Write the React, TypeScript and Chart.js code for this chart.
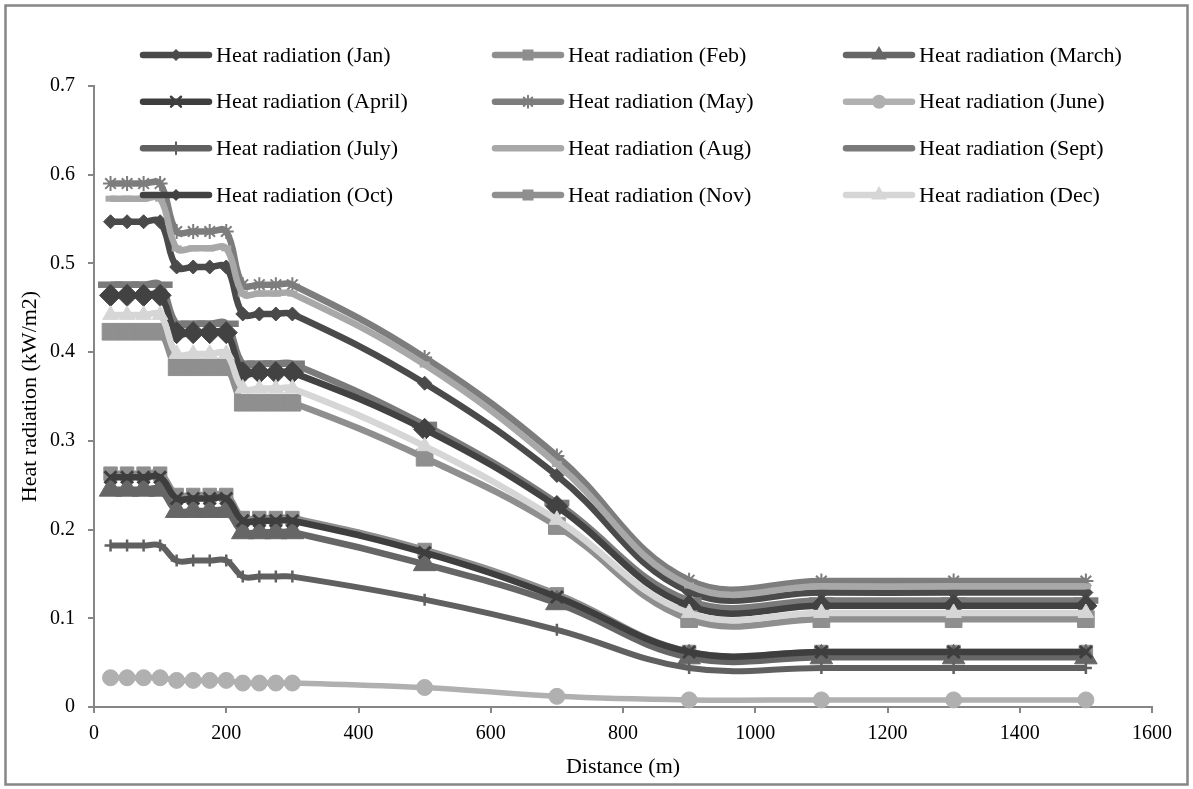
import React, { useEffect, useRef } from 'react';
import { Chart, registerables } from 'chart.js';

Chart.register(...registerables);

// ---------- data ----------
const distances = [25, 50, 75, 100, 125, 150, 175, 200, 225, 250, 275, 300, 500, 700, 900, 1100, 1300, 1500];

const seriesNames = [
  'Heat radiation (Jan)', 'Heat radiation (Feb)', 'Heat radiation (March)',
  'Heat radiation (April)', 'Heat radiation (May)', 'Heat radiation (June)',
  'Heat radiation (July)', 'Heat radiation (Aug)', 'Heat radiation (Sept)',
  'Heat radiation (Oct)', 'Heat radiation (Nov)', 'Heat radiation (Dec)',
];

const jan = [0.547, 0.547, 0.547, 0.547, 0.496, 0.496, 0.496, 0.496, 0.443, 0.443, 0.443, 0.443, 0.365, 0.261, 0.130, 0.129, 0.129, 0.129];
const feb = [0.263, 0.263, 0.263, 0.263, 0.239, 0.239, 0.239, 0.239, 0.213, 0.213, 0.213, 0.213, 0.177, 0.127, 0.062, 0.062, 0.062, 0.062];
const march = [0.245, 0.245, 0.245, 0.245, 0.221, 0.221, 0.221, 0.221, 0.197, 0.197, 0.197, 0.197, 0.161, 0.117, 0.056, 0.056, 0.056, 0.056];
const april = [0.259, 0.259, 0.259, 0.259, 0.235, 0.235, 0.235, 0.235, 0.210, 0.210, 0.210, 0.210, 0.174, 0.124, 0.062, 0.062, 0.062, 0.062];
const may = [0.590, 0.590, 0.590, 0.590, 0.536, 0.536, 0.536, 0.536, 0.476, 0.476, 0.476, 0.476, 0.394, 0.283, 0.143, 0.142, 0.142, 0.142];
const june = [0.033, 0.033, 0.033, 0.033, 0.030, 0.030, 0.030, 0.030, 0.027, 0.027, 0.027, 0.027, 0.022, 0.012, 0.008, 0.008, 0.008, 0.008];
const july = [0.182, 0.182, 0.182, 0.182, 0.165, 0.165, 0.165, 0.165, 0.147, 0.147, 0.147, 0.147, 0.121, 0.087, 0.044, 0.044, 0.044, 0.044];
const aug = [0.573, 0.573, 0.573, 0.573, 0.517, 0.517, 0.517, 0.517, 0.466, 0.466, 0.466, 0.466, 0.386, 0.274, 0.137, 0.136, 0.136, 0.136];
const sept = [0.476, 0.476, 0.476, 0.476, 0.432, 0.432, 0.432, 0.432, 0.387, 0.387, 0.387, 0.387, 0.318, 0.230, 0.120, 0.120, 0.120, 0.120];
const oct = [0.464, 0.464, 0.464, 0.464, 0.422, 0.422, 0.422, 0.422, 0.377, 0.377, 0.377, 0.377, 0.313, 0.226, 0.114, 0.114, 0.114, 0.114];
const nov = [0.423, 0.423, 0.423, 0.423, 0.383, 0.383, 0.383, 0.383, 0.343, 0.343, 0.343, 0.343, 0.281, 0.204, 0.099, 0.099, 0.099, 0.099];
const dec = [0.442, 0.442, 0.442, 0.442, 0.398, 0.398, 0.398, 0.398, 0.359, 0.359, 0.359, 0.359, 0.294, 0.211, 0.106, 0.106, 0.106, 0.106];

const seriesValues = [jan, feb, march, april, may, june, july, aug, sept, oct, nov, dec];

const xTickValues = [0, 200, 400, 600, 800, 1000, 1200, 1400, 1600];
const yTickValues = [0, 0.1, 0.2, 0.3, 0.4, 0.5, 0.6, 0.7];
const xTickLabels = ['0', '200', '400', '600', '800', '1000', '1200', '1400', '1600'];
const yTickLabels = ['0', '0.1', '0.2', '0.3', '0.4', '0.5', '0.6', '0.7'];

const xTitle = 'Distance (m)';
const yTitle = 'Heat radiation (kW/m2)';

// ---------- styles ----------
const colors = ['#4a4a4a', '#8e8e8e', '#666666', '#3e3e3e', '#7d7d7d', '#b0b0b0', '#606060', '#a8a8a8', '#7a7a7a', '#424242', '#8f8f8f', '#d6d6d6'];
const pointStyles = ['rectRot', 'rect', 'triangle', 'crossRot', 'star', 'circle', 'cross', 'line', 'line', 'rectRot', 'rect', 'triangle'];
const pointRadii = [7, 9.5, 13, 8.5, 7.5, 8, 6, 5, 12.5, 11, 11.8, 9];
const pointBorderWidths = [1, 1, 1, 3, 2, 1, 2.5, 6, 6.5, 1, 1, 1];
const lineWidths = [6.5, 6.5, 6.5, 6.5, 6.5, 5.5, 6, 6.5, 6.5, 6.5, 6.5, 6.5];
const legendRadii = [6, 7.8, 9, 7, 6, 7, 6, 0, 0, 6, 7.8, 9];
const legendMarkerWidths = [1, 1, 1, 2.5, 2, 1, 2, 1, 1, 1, 1, 1];

const FONT = '"Liberation Serif", "DejaVu Serif", serif';
const AXIS = '#868686';

function drawMarker(ctx: CanvasRenderingContext2D, style: string, x: number, y: number, r: number, color: string, lw: number) {
  if (r <= 0) return;
  ctx.save();
  ctx.fillStyle = color;
  ctx.strokeStyle = color;
  ctx.lineWidth = lw;
  ctx.beginPath();
  const d = r * Math.SQRT1_2;
  switch (style) {
    case 'circle':
      ctx.arc(x, y, r, 0, Math.PI * 2);
      ctx.fill();
      break;
    case 'rect':
      ctx.rect(x - d, y - d, 2 * d, 2 * d);
      ctx.fill();
      break;
    case 'rectRot':
      ctx.moveTo(x - r, y);
      ctx.lineTo(x, y - r);
      ctx.lineTo(x + r, y);
      ctx.lineTo(x, y + r);
      ctx.closePath();
      ctx.fill();
      break;
    case 'triangle':
      ctx.moveTo(x, y - r);
      ctx.lineTo(x + r * 0.866, y + r * 0.5);
      ctx.lineTo(x - r * 0.866, y + r * 0.5);
      ctx.closePath();
      ctx.fill();
      break;
    case 'cross':
      ctx.moveTo(x, y - r); ctx.lineTo(x, y + r);
      ctx.moveTo(x - r, y); ctx.lineTo(x + r, y);
      ctx.stroke();
      break;
    case 'crossRot':
      ctx.moveTo(x - d, y - d); ctx.lineTo(x + d, y + d);
      ctx.moveTo(x - d, y + d); ctx.lineTo(x + d, y - d);
      ctx.stroke();
      break;
    case 'star':
      ctx.moveTo(x, y - r); ctx.lineTo(x, y + r);
      ctx.moveTo(x - r, y); ctx.lineTo(x + r, y);
      ctx.moveTo(x - d, y - d); ctx.lineTo(x + d, y + d);
      ctx.moveTo(x - d, y + d); ctx.lineTo(x + d, y - d);
      ctx.stroke();
      break;
    default:
      break;
  }
  ctx.restore();
}

const frameAndLegend = {
  id: 'frameAndLegend',
  beforeDraw(chart: any) {
    const ctx = chart.ctx as CanvasRenderingContext2D;
    ctx.save();
    ctx.fillStyle = '#ffffff';
    ctx.fillRect(0, 0, chart.width, chart.height);
    ctx.strokeStyle = AXIS;
    ctx.lineWidth = 2.5;
    ctx.strokeRect(5.5, 5.5, chart.width - 11, chart.height - 10);
    ctx.restore();
  },
  afterDraw(chart: any) {
    const ctx = chart.ctx as CanvasRenderingContext2D;
    const colX = [140, 492, 843];
    const rowY = [55, 101.7, 148.3, 195];
    ctx.save();
    seriesNames.forEach((name, i) => {
      const col = i % 3;
      const row = Math.floor(i / 3);
      const x0 = colX[col];
      const y = rowY[row];
      ctx.strokeStyle = colors[i];
      ctx.lineWidth = 6.5;
      ctx.lineCap = 'round';
      ctx.beginPath();
      ctx.moveTo(x0 + 3, y);
      ctx.lineTo(x0 + 69, y);
      ctx.stroke();
      drawMarker(ctx, pointStyles[i], x0 + 36, y, legendRadii[i], colors[i], legendMarkerWidths[i]);
      ctx.fillStyle = '#000000';
      ctx.font = `22px ${FONT}`;
      ctx.textAlign = 'left';
      ctx.textBaseline = 'middle';
      ctx.fillText(name, x0 + 76, y + 1);
    });
    ctx.restore();
  },
};

export default function App() {
  const ref = useRef<HTMLCanvasElement | null>(null);

  useEffect(() => {
    if (!ref.current) return;
    const datasets = seriesNames.map((name, i) => ({
      label: name,
      data: distances.map((d, j) => ({ x: d, y: seriesValues[i][j] })),
      borderColor: colors[i],
      backgroundColor: colors[i],
      borderWidth: lineWidths[i],
      tension: 0.4,
      pointStyle: pointStyles[i],
      pointRadius: pointRadii[i],
      pointBorderWidth: pointBorderWidths[i],
      pointBackgroundColor: colors[i],
      pointBorderColor: colors[i],
      pointHoverRadius: pointRadii[i],
      order: seriesNames.length - i,
      clip: false,
    }));

    const tickFont = { family: FONT, size: 20 };
    const titleFont = { family: FONT, size: 22 };

    const chart = new Chart(ref.current, {
      type: 'line',
      data: { datasets },
      plugins: [frameAndLegend],
      options: {
        animation: false,
        responsive: false,
        maintainAspectRatio: false,
        layout: { padding: { left: 0, right: 41, top: 86, bottom: 0 } },
        plugins: { legend: { display: false }, tooltip: { enabled: false } },
        scales: {
          x: {
            type: 'linear',
            min: 0,
            max: 1600,
            afterBuildTicks: (s: any) => { s.ticks = xTickValues.map((v) => ({ value: v })); },
            afterFit: (s: any) => { s.height = 82; },
            ticks: {
              font: tickFont,
              color: '#000000',
              padding: 9,
              maxRotation: 0,
              autoSkip: false,
              callback: (v: any) => xTickLabels[xTickValues.indexOf(Number(v))] ?? String(v),
            },
            grid: { drawOnChartArea: false, drawTicks: true, tickLength: 6, color: AXIS, lineWidth: 2 },
            border: { display: true, color: AXIS, width: 2 },
            title: { display: true, text: xTitle, font: titleFont, color: '#000000', padding: { top: 0, bottom: 9 } },
          },
          y: {
            type: 'linear',
            min: 0,
            max: 0.7,
            afterBuildTicks: (s: any) => { s.ticks = yTickValues.map((v) => ({ value: v })); },
            afterFit: (s: any) => { s.width = 94; },
            ticks: {
              font: tickFont,
              color: '#000000',
              padding: 13,
              autoSkip: false,
              callback: (v: any) => {
                const idx = yTickValues.findIndex((t) => Math.abs(t - Number(v)) < 1e-9);
                return idx >= 0 ? yTickLabels[idx] : String(v);
              },
            },
            grid: { drawOnChartArea: false, drawTicks: true, tickLength: 6, color: AXIS, lineWidth: 2 },
            border: { display: true, color: AXIS, width: 2 },
            title: { display: true, text: yTitle, font: titleFont, color: '#000000', padding: { top: 17, bottom: 0 } },
          },
        },
      } as any,
    });
    return () => chart.destroy();
  }, []);

  return (
    <div style={{ position: 'fixed', left: 0, top: 0, width: 1193, height: 789, background: '#fff' }}>
      <canvas ref={ref} width={1193} height={789} style={{ display: 'block', width: 1193, height: 789 }} />
    </div>
  );
}
